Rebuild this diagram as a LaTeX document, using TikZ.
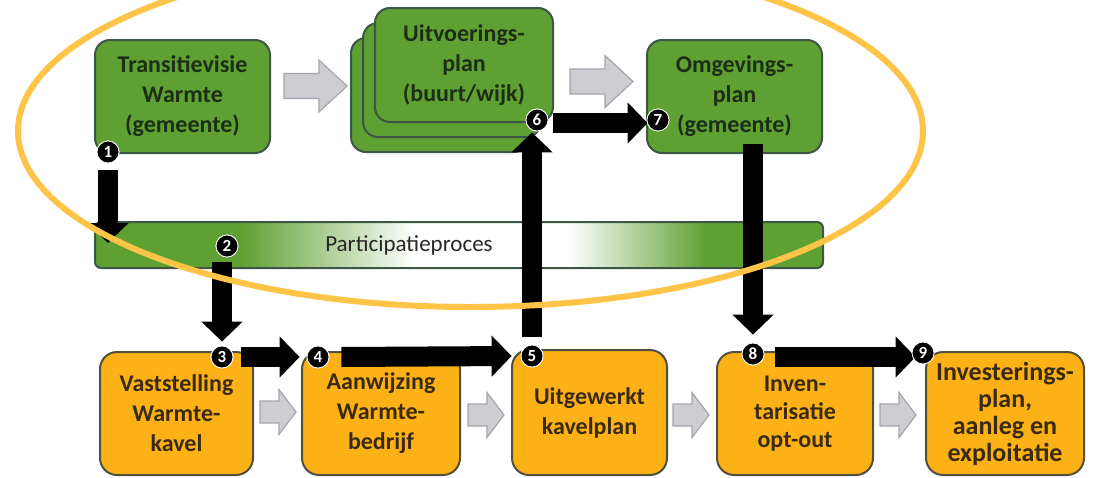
\documentclass[tikz,border=0pt]{standalone}
\usepackage{fontspec}
\setmainfont{Carlito}
\usetikzlibrary{arrows.meta,calc}
\definecolor{gfill}{RGB}{94,160,50}
\definecolor{ofill}{RGB}{252,178,22}
\definecolor{bdr}{RGB}{62,86,70}
\definecolor{obdr}{RGB}{80,80,60}
\definecolor{gtext}{RGB}{28,46,22}
\definecolor{otext}{RGB}{58,42,16}
\definecolor{grayf}{RGB}{205,205,210}
\definecolor{grayd}{RGB}{165,165,172}
\definecolor{ell}{RGB}{253,196,72}
\definecolor{ptextc}{RGB}{40,40,40}
\pgfdeclarehorizontalshading{partshade}{100bp}{color(0bp)=(gfill); color(25bp)=(gfill); color(35bp)=(gfill); color(47bp)=(white); color(57.5bp)=(white); color(67bp)=(gfill); color(75bp)=(gfill); color(100bp)=(gfill)}
\begin{document}
\begin{tikzpicture}[x=1pt,y=-1pt,
  gbox/.style={draw=bdr, line width=2, fill=gfill, rounded corners=15, align=center, text=gtext,
    font=\bfseries\fontsize{24}{30}\selectfont, inner sep=0},
  obox/.style={draw=obdr, line width=2, fill=ofill, rounded corners=17, align=center, text=otext,
    font=\bfseries\fontsize{24}{30}\selectfont, inner sep=0, minimum height=123},
  badge/.style={circle, fill=black, draw=white, line width=0.8, text=white, inner sep=0,
    minimum size=22, font=\bfseries\fontsize{17}{17}\selectfont},
  bigarr/.style={draw=black, line width=20, -{Triangle[width=40pt,length=20pt]}},
  grayarr/.style={draw=grayd, line width=1.2, fill=grayf, line join=miter},
  gbig/.pic={\draw[grayarr] (0,-12.5) -- (35,-12.5) -- (35,-26) -- (63,0) -- (35,26) -- (35,12.5) -- (0,12.5) -- cycle;},
  gsmall/.pic={\draw[grayarr] (0,-11) -- (19,-11) -- (19,-22.5) -- (36,0) -- (19,22.5) -- (19,11) -- (0,11) -- cycle;}
]
\useasboundingbox (0,0) rectangle (1099,477);
\clip (0,0) rectangle (1099,477);
\fill[white] (0,0) rectangle (1099,477);

% top row
\node[gbox, minimum width=175, minimum height=113] (tv) at (182.5,96.5) {Transitievisie\\Warmte\\(gemeente)};
\node[gbox, minimum width=178, minimum height=114] (uv3) at (440,95) {};
\node[gbox, minimum width=178, minimum height=114] (uv2) at (452,80) {};
\node[gbox, minimum width=178, minimum height=114] (uv) at (464,65) {Uitvoerings-\\plan\\(buurt/wijk)};
\node[gbox, minimum width=175, minimum height=113] (om) at (734.5,96.5) {Omgevings-\\plan\\(gemeente)};

% participation bar
\node[draw=bdr, line width=2, rounded corners=6, shading=partshade, shade, minimum width=728, minimum height=46, inner sep=0] (bar) at (459,245) {};
\node[font=\fontsize{23}{23}\selectfont, text=ptextc] (ptext) at (409,245) {Participatieproces};

% bottom row
\node[obox, minimum width=153] (o3) at (176.5,413.5) {Vaststelling\\Warmte-\\kavel};
\node[obox, minimum width=158] (o4) at (381,413.5) {Aanwijzing\\Warmte-\\bedrijf};
\node[obox, minimum width=155, minimum height=125] (o5) at (589.5,412.5) {Uitgewerkt\\kavelplan};
\node[obox, minimum width=156, font=\bfseries\fontsize{24}{28}\selectfont] (o8) at (795,413.5) {Inven-\\tarisatie\\opt-out};
\node[obox, minimum width=158, font=\bfseries\fontsize{26}{27}\selectfont] (o9) at (1005,413.5) {Investerings-\\plan,\\aanleg en\\exploitatie};

% gray process arrows
\pic at (284,86) {gbig};
\pic at (570,81.5) {gbig};
\pic at (260,412) {gsmall};
\pic at (468,415) {gsmall};
\pic at (673,415) {gsmall};
\pic at (880,415) {gsmall};

% badges (positions)
\node[badge] (b1) at (108,152) {1};
\node[badge] (b2) at (227,246) {2};
\node[badge] (b3) at (222,357) {3};
\node[badge] (b4) at (318,357) {4};
\node[badge] (b5) at (532,356) {5};
\node[badge] (b6) at (537,120) {6};
\node[badge] (b7) at (658,120) {7};
\node[badge] (b8) at (753,354) {8};
\node[badge] (b9) at (923,353) {9};
\coordinate (tip1) at (108,243);

% black flow arrows
\draw[bigarr] ($(b1.south)+(0,7)$) -- (tip1);
\draw[bigarr] ($(b3.north |- b2.south)+(0,5)$) -- ($(b3.north)+(0,-4)$);
\draw[bigarr] ($(b3.east)+(8,0)$) -- ($(b4.west)+(-7,0)$);
\draw[bigarr] ($(b4.east)+(12,0)$) -- ($(b5.west)+(-9,0)$);
\draw[bigarr] ($(b5.north)+(0,-8)$) -- ($(b5.north |- b6.south)+(0,1)$);
\draw[bigarr] ($(b6.east)+(5,3)$) -- ($(b7.west)+(1,3)$);
\draw[bigarr] ($(b8.north |- om.south)+(0,-10)$) -- ($(b8.north)+(0,-8)$);
\draw[bigarr] ($(b8.east)+(11,3)$) -- ($(b9.west)+(4,4)$);

% redraw badges on top
\foreach \n/\p in {1/{(108,152)},2/{(227,246)},3/{(222,357)},4/{(318,357)},5/{(532,356)},6/{(537,120)},7/{(658,120)},8/{(753,354)},9/{(923,353)}}
  \node[badge] at \p {\n};

% highlight ellipse
\draw[ell, line width=6] (470.5,131) ellipse [x radius=452.5, y radius=176];
\end{tikzpicture}
\end{document}
